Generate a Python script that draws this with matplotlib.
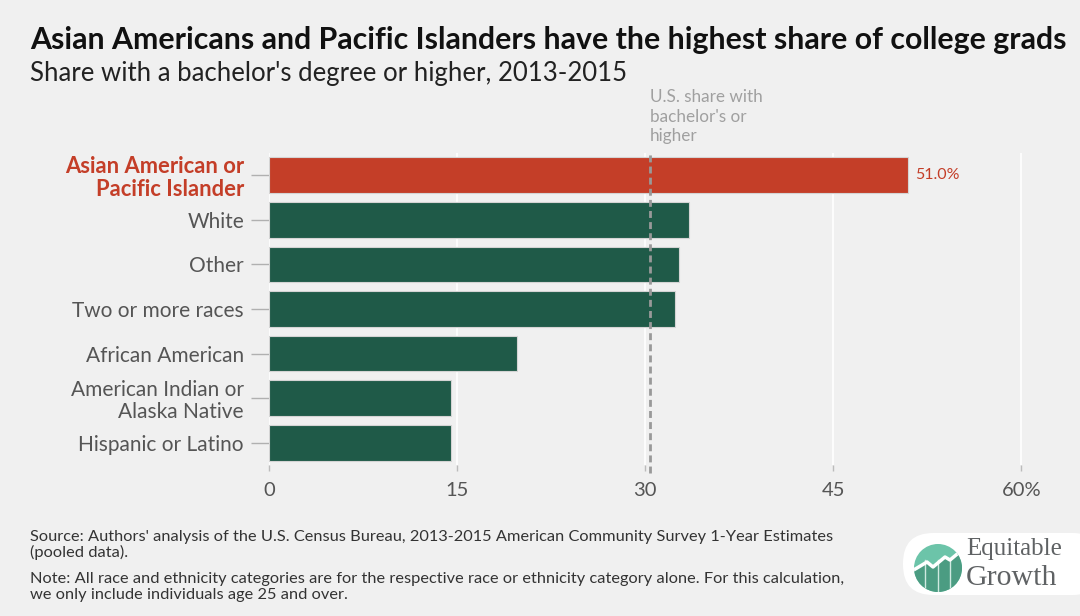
import matplotlib.pyplot as plt
import matplotlib.patches as mpatches
import numpy as np

plt.rcParams['font.family'] = ['Lato', 'DejaVu Sans']

groups = ["Asian American or\nPacific Islander", "White", "Other", "Two or more races",
          "African American", "American Indian or\nAlaska Native", "Hispanic or Latino"]
shares = [51.0, 33.5, 32.7, 32.4, 19.8, 14.5, 14.5]
us_share = 30.4
xticks = [0, 15, 30, 45, 60]
xticklabels = ["0", "15", "30", "45", "60%"]

bg = "#f0f0f0"
red = "#c43e28"
green = "#1f5a48"
grey = "#555555"
W, H = 1080, 616

fig = plt.figure(figsize=(10.8, 6.16), dpi=100, facecolor=bg)
ax = fig.add_axes([269/W, 1-465/H, (1040-269)/W, (465-153)/H])
ax.set_facecolor(bg)

y = np.arange(len(groups))
colors = [red] + [green]*(len(groups)-1)
ax.barh(y, shares, height=0.8, color=colors, edgecolor="#d4d4d4", linewidth=0.8, zorder=3)
ax.set_ylim(len(groups)-0.5, -0.5)
ax.set_xlim(0, 61.5)

ax.set_xticks(xticks)
ax.set_xticklabels(xticklabels, fontsize=14.5, color=grey)
ax.xaxis.grid(True, color="white", linewidth=1.2, zorder=0)
ax.tick_params(axis="x", length=4, color="#bbbbbb", width=1, pad=8)

ax.set_yticks(y)
ax.set_yticklabels(groups, fontsize=15, color=grey, linespacing=1.1)
ax.tick_params(axis="y", length=13, color="#b0b0b0", width=1, pad=5)
ax.get_yticklabels()[0].set_color(red)
ax.get_yticklabels()[0].set_fontweight("bold")
ax.get_yticklabels()[0].set_fontsize(15.8)
for s in ax.spines.values():
    s.set_visible(False)

ax.axvline(us_share, color="#999999", linestyle=(0, (2.5, 1.5)), linewidth=2, zorder=4,
           ymin=-0.025, ymax=1.0, clip_on=False)
fig.text(650/W, 1-89/H, "U.S. share with\nbachelor's or\nhigher", fontsize=12.3, color="#a0a0a0",
         ha="left", va="top", linespacing=1.28)
ax.text(shares[0] + 0.5, 0, f"{shares[0]:.1f}%", color=red, fontsize=11.5, va="center", ha="left")

fig.text(30/W, 1-40/H, "Asian Americans and Pacific Islanders have the highest share of college grads",
         fontsize=21.8, fontweight="bold", color="#111111", va="center")
fig.text(30/W, 1-74/H, "Share with a bachelor's degree or higher, 2013-2015",
         fontsize=18.5, color="#222222", va="center")

fig.text(30/W, 1-545/H, "Source: Authors' analysis of the U.S. Census Bureau, 2013-2015 American Community Survey 1-Year Estimates\n(pooled data).",
         fontsize=11.8, color="#333333", va="center", linespacing=1.1)
fig.text(30/W, 1-587/H, "Note: All race and ethnicity categories are for the respective race or ethnicity category alone. For this calculation,\nwe only include individuals age 25 and over.",
         fontsize=11.8, color="#333333", va="center", linespacing=1.1)

# logo
box = mpatches.FancyBboxPatch((903/W, 1-595/H), 200/W, 62/H,
                              boxstyle="round,pad=0,rounding_size=0.028", transform=fig.transFigure,
                              facecolor="white", edgecolor="none", mutation_aspect=W/H)
fig.patches.append(box)
circ = mpatches.Ellipse((938/W, 1-568/H), 48/W, 48/H, transform=fig.transFigure,
                        facecolor="#6cc4a9", edgecolor="none")
fig.patches.append(circ)
zig = [(910, 572), (917, 568), (927, 562), (933, 567), (945, 557), (950, 560), (962, 550)]
lower = mpatches.Polygon([(px/W, 1-py/H) for px, py in zig + [(962, 600), (910, 600)]],
                         closed=True, transform=fig.transFigure, facecolor="#4b9c82", edgecolor="none")
fig.patches.append(lower)
lower.set_clip_path(circ)
for vx in [925, 938, 950]:
    ln = plt.Line2D([vx/W, vx/W], [1-560/H, 1-594/H], transform=fig.transFigure, color="#cfe9e0", lw=1)
    fig.lines.append(ln)
    ln.set_clip_path(circ)
zl = plt.Line2D([p[0]/W for p in zig], [1-p[1]/H for p in zig], transform=fig.transFigure,
                color="white", lw=2.5)
fig.lines.append(zl)
zl.set_clip_path(circ)
fig.text(966/W, 1-549/H, "Equitable", family="Liberation Serif", fontsize=18, color="#5f6264", va="center")
fig.text(966/W, 1-578/H, "Growth", family="Liberation Serif", fontsize=21.5, color="#5f6264", va="center")

fig.savefig("out.png", dpi=100, facecolor=bg)
